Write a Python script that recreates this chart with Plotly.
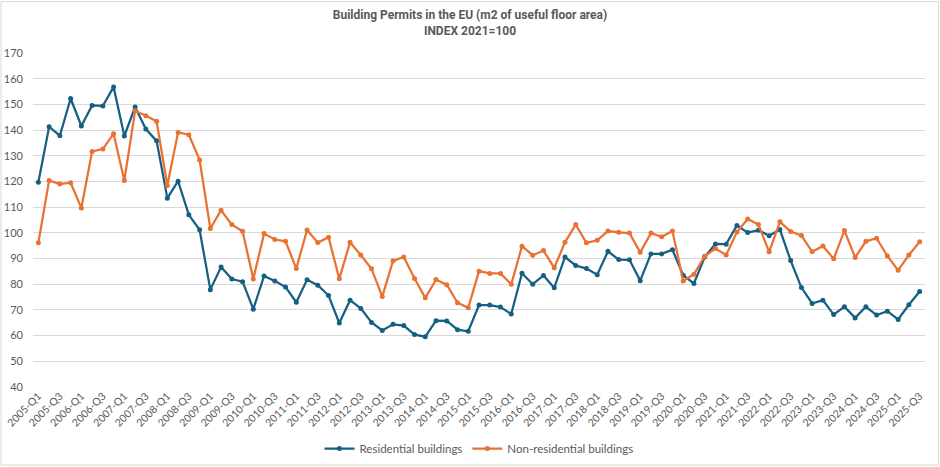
import plotly.graph_objects as go

years = list(range(2005, 2026))
quarters = [f"{y}-Q{q}" for y in years for q in (1, 2, 3, 4)][:83]

residential = [
    119.7, 141.3, 137.8, 152.3, 141.6, 149.6, 149.4, 156.8, 137.7, 149.0, 140.4, 135.8, 113.5, 120.1, 107.0, 101.2,
    77.9, 86.7, 82.0, 81.0,
    70.3, 83.2, 81.3, 78.9, 73.0, 81.7, 79.6, 75.6, 64.9, 73.8, 70.6, 65.1, 62.0, 64.4, 63.9, 60.4, 59.6, 65.8, 65.7, 62.3, 61.7,
    71.9, 71.9, 71.1, 68.4, 84.3, 80.0, 83.4, 78.6, 90.6, 87.3, 86.1, 83.7, 92.8, 89.6, 89.5, 81.4, 91.8, 91.8, 93.4, 83.5, 80.3, 90.6, 95.7,
    95.6, 102.9, 100.1, 101.0, 98.9, 101.3, 89.2, 78.7, 72.5, 73.8, 68.2, 71.2, 66.9, 71.2, 68.0, 69.5, 66.3, 72.0, 77.2,
]

non_residential = [
    96.1, 120.4, 119.0, 119.5, 109.7, 131.7, 132.6, 138.6, 120.4, 147.5, 145.6, 143.4, 118.4, 139.1, 138.2, 128.4,
    101.7, 108.8, 103.2, 100.6,
    82.0, 99.7, 97.4, 96.7, 86.1, 101.1, 96.2, 98.3, 82.1, 96.3, 91.4, 86.0, 75.2, 89.1, 90.6, 82.2, 74.7, 81.8, 79.8, 72.8, 70.8,
    85.1, 84.2, 84.2, 80.0, 94.8, 91.3, 93.1, 86.4, 96.3, 103.2, 96.1, 97.1, 100.7, 100.2, 99.9, 92.4, 99.9, 98.5, 100.7, 81.3, 83.9, 90.9, 93.9,
    91.4, 100.3, 105.4, 103.2, 92.6, 104.3, 100.5, 99.0, 92.6, 94.9, 89.9, 100.9, 90.4, 96.7, 97.9, 91.0, 85.4, 91.4, 96.5,
]

tick_labels = quarters[::2]
y_ticks = list(range(40, 171, 10))

title_text = "Building Permits in the EU (m2 of useful floor area)<br>INDEX 2021=100"

BLUE = "#156082"
ORANGE = "#E97132"
TEXT = "#595959"
GRID = "#D9D9D9"

fig = go.Figure()
fig.add_trace(go.Scatter(
    x=quarters, y=residential, name="Residential buildings", mode="lines+markers",
    line=dict(color=BLUE, width=2.25), marker=dict(color=BLUE, size=5),
))
fig.add_trace(go.Scatter(
    x=quarters, y=non_residential, name="Non-residential buildings", mode="lines+markers",
    line=dict(color=ORANGE, width=2.25), marker=dict(color=ORANGE, size=5),
))

W, H = 940, 467
ml, mr, mt, mb = 33, 15, 52.5, 79.7
pw, ph = W - ml - mr, H - mt - mb

fig.update_layout(
    width=W, height=H,
    margin=dict(l=ml, r=mr, t=mt, b=mb, autoexpand=False),
    paper_bgcolor="white", plot_bgcolor="white",
    font=dict(family="Lato, Open Sans, sans-serif", size=11, color=TEXT),
    title=dict(
        text="<b>" + title_text.replace("<br>", "</b><br><b>") + "</b>",
        x=0.5, xanchor="center", xref="container",
        y=1 - 19 / H, yanchor="middle", yref="container",
        font=dict(family="Liberation Sans Narrow, Roboto, sans-serif", size=12, color=TEXT),
    ),
    xaxis=dict(
        type="category", categoryorder="array", categoryarray=quarters,
        range=[-0.5, len(quarters) - 0.5], automargin=False,
        tickmode="array", tickvals=tick_labels, ticktext=tick_labels,
        tickangle=-45, showgrid=False, showline=False, zeroline=False,
        ticks="", tickfont=dict(size=10.5, color=TEXT),
    ),
    yaxis=dict(
        range=[40, 170], tickmode="array", tickvals=y_ticks, automargin=False,
        showgrid=True, gridcolor=GRID, gridwidth=1, zeroline=False,
        showline=False, ticks="", tickfont=dict(size=11, color=TEXT),
        ticklabelstandoff=9,
    ),
    showlegend=True,
    legend=dict(
        orientation="h", x=0.5, xanchor="center",
        y=-(449 - (H - mb)) / ph, yanchor="middle",
        font=dict(size=11.5, color=TEXT), itemwidth=30,
        bgcolor="rgba(0,0,0,0)",
    ),
    shapes=[dict(
        type="rect", xref="paper", yref="paper",
        x0=-(ml - 1) / pw, x1=1 + (mr - 1.5) / pw,
        y0=-(mb - 1.5) / ph, y1=1 + (mt - 1) / ph,
        line=dict(color="#D9D9D9", width=1), fillcolor="rgba(0,0,0,0)",
        layer="below",
    )],
)

fig.write_html(
    "out.html",
    config={"displayModeBar": False},
    post_script="document.body.style.margin='0';document.body.style.overflow='hidden';",
)
